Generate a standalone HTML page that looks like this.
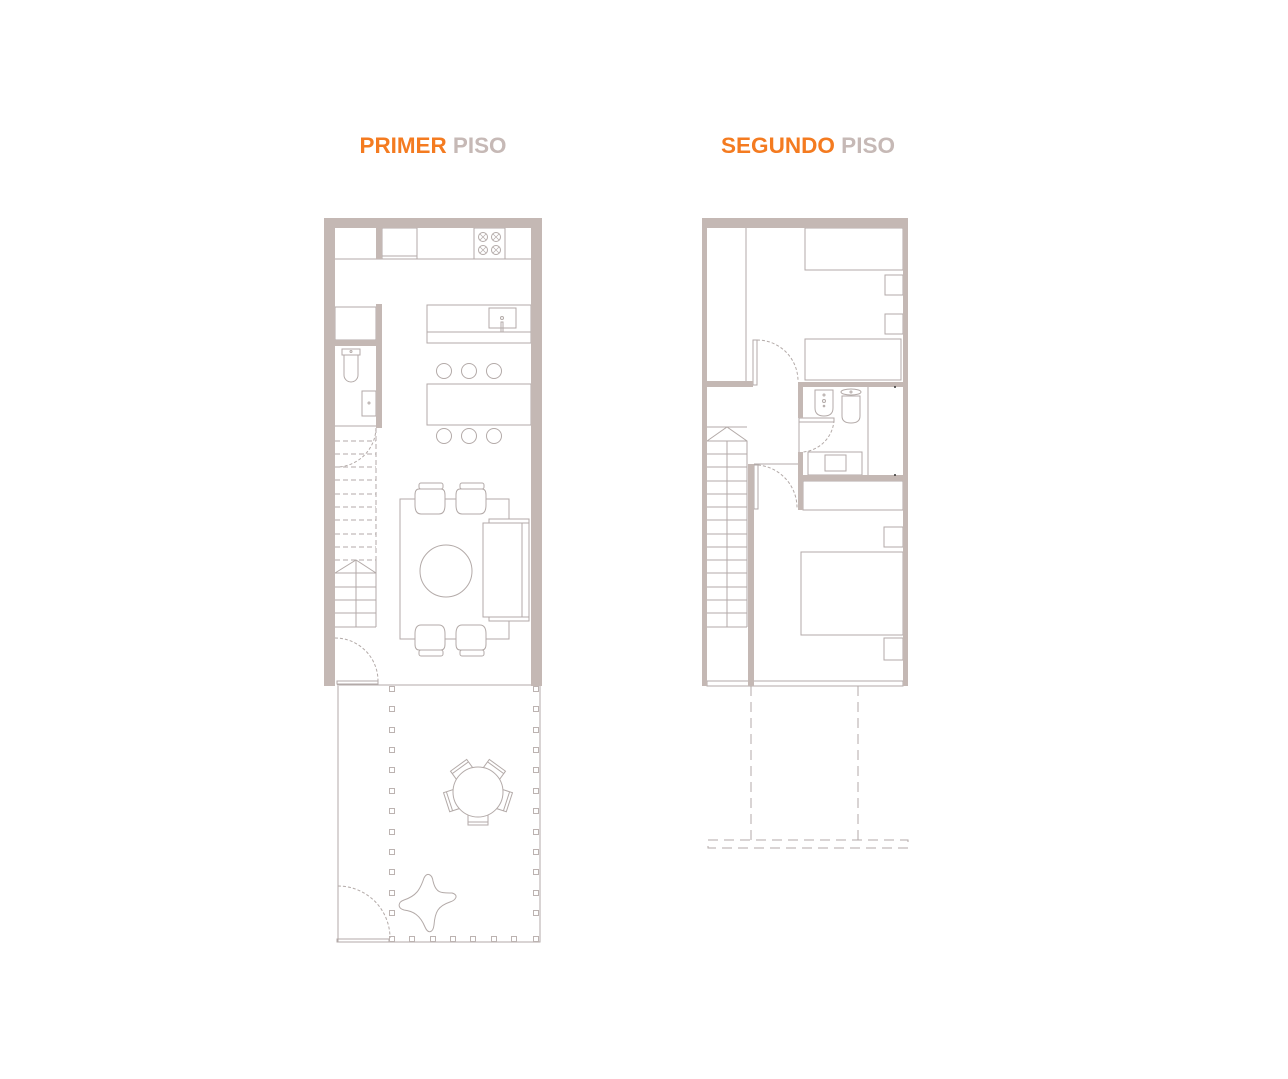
<!DOCTYPE html>
<html><head><meta charset="utf-8"><style>
html,body{margin:0;padding:0;background:#fff;}
svg{display:block;}
text{font-family:"Liberation Sans",Arial,sans-serif;font-weight:bold;font-size:22px;}
</style></head><body>
<svg width="1288" height="1079" viewBox="0 0 1288 1079" xmlns="http://www.w3.org/2000/svg">
<rect width="1288" height="1079" fill="#fff"/>
<text x="433" y="153" text-anchor="middle" textLength="147" lengthAdjust="spacingAndGlyphs"><tspan fill="#f47b20">PRIMER</tspan><tspan fill="#c6b9b6"> PISO</tspan></text>
<text x="808" y="153" text-anchor="middle" textLength="174" lengthAdjust="spacingAndGlyphs"><tspan fill="#f47b20">SEGUNDO</tspan><tspan fill="#c6b9b6"> PISO</tspan></text>

<g fill="none" stroke="#b3aaa8" stroke-width="1">
<line x1="335" y1="259" x2="531" y2="259"/>
<rect x="382" y="228" width="35" height="31"/>
<line x1="382" y1="256" x2="417" y2="256"/>
<rect x="474" y="228" width="31" height="31"/>
<g>
<circle cx="483" cy="237" r="4.5"/><circle cx="496" cy="237" r="4.5"/>
<circle cx="483" cy="250" r="4.5"/><circle cx="496" cy="250" r="4.5"/>
<path d="M480 234l6 6M486 234l-6 6M493 234l6 6M499 234l-6 6M480 247l6 6M486 247l-6 6M493 247l6 6M499 247l-6 6" stroke-width="0.7"/>
</g>
<rect x="335" y="307" width="41" height="33"/>
<path d="M342 349h18v6h-18z"/>
<path d="M344 355h14v20a7 7 0 0 1-14 0z"/>
<circle cx="351" cy="351.5" r="1"/>
<rect x="362" y="391" width="14" height="25"/>
<circle cx="369" cy="403" r="1"/>
<rect x="427" y="305" width="104" height="38"/>
<line x1="427" y1="332" x2="531" y2="332"/>
<rect x="489" y="308" width="27" height="20"/>
<circle cx="502" cy="318" r="1.5"/>
<rect x="501" y="322" width="2" height="10"/>
<circle cx="444" cy="371" r="7.5"/><circle cx="469" cy="371" r="7.5"/><circle cx="494" cy="371" r="7.5"/>
<rect x="427" y="384" width="104" height="41"/>
<circle cx="444" cy="436" r="7.5"/><circle cx="469" cy="436" r="7.5"/><circle cx="494" cy="436" r="7.5"/>
<line x1="335" y1="426" x2="376" y2="426"/>
<g stroke-dasharray="5 3">
<line x1="335" y1="441" x2="376" y2="441"/><line x1="335" y1="454" x2="376" y2="454"/>
<line x1="335" y1="467" x2="376" y2="467"/><line x1="335" y1="480" x2="376" y2="480"/>
<line x1="335" y1="494" x2="376" y2="494"/><line x1="335" y1="507" x2="376" y2="507"/>
<line x1="335" y1="520" x2="376" y2="520"/><line x1="335" y1="534" x2="376" y2="534"/>
<line x1="335" y1="547" x2="376" y2="547"/><line x1="335" y1="560" x2="376" y2="560"/>
<line x1="376" y1="428" x2="376" y2="573"/>
<path d="M376 428A40 40 0 0 1 337 467" stroke-dasharray="3 2"/>
</g>
<line x1="335" y1="573" x2="376" y2="573"/><line x1="335" y1="587" x2="376" y2="587"/>
<line x1="335" y1="600" x2="376" y2="600"/><line x1="335" y1="613" x2="376" y2="613"/>
<line x1="335" y1="627" x2="376" y2="627"/>
<line x1="376" y1="560" x2="376" y2="627"/>
<line x1="356" y1="560" x2="356" y2="627"/>
<path d="M335 573L356 560L376 573"/>
<rect x="400" y="499" width="109" height="140"/>
<circle cx="446" cy="571" r="26"/>
<g fill="#fff">
<rect x="419" y="483" width="24" height="6" rx="2"/>
<path d="M419 489h22q4 0 4 6v10q0 9-6 9h-18q-6 0-6-9v-10q0-6 4-6z"/>
<rect x="460" y="483" width="24" height="6" rx="2"/>
<path d="M460 489h22q4 0 4 6v10q0 9-6 9h-18q-6 0-6-9v-10q0-6 4-6z"/>
<rect x="419" y="650" width="24" height="6" rx="2"/>
<path d="M419 650h22q4 0 4-6v-10q0-9-6-9h-18q-6 0-6 9v10q0 6 4 6z"/>
<rect x="460" y="650" width="24" height="6" rx="2"/>
<path d="M460 650h22q4 0 4-6v-10q0-9-6-9h-18q-6 0-6 9v10q0 6 4 6z"/>
<rect x="483" y="523" width="39" height="94"/>
<rect x="489" y="519" width="40" height="4"/>
<rect x="489" y="617" width="40" height="4"/>
<rect x="522" y="523" width="7" height="94"/>
</g>
<path d="M335 638A43 43 0 0 1 378 681" stroke-dasharray="3 2"/>
<line x1="337" y1="685" x2="531" y2="685"/>
<rect x="337" y="681" width="41" height="3"/>
<path d="M338 686V942H540V686"/>
<rect x="337" y="939" width="52" height="3"/>
<path d="M338 886A52 52 0 0 1 390 938" stroke-dasharray="3 2"/>
<g stroke="#bcb3b1">
<rect x="389.5" y="686.5" width="5" height="5"/><rect x="389.5" y="706.5" width="5" height="5"/>
<rect x="389.5" y="727.5" width="5" height="5"/><rect x="389.5" y="747.5" width="5" height="5"/>
<rect x="389.5" y="767.5" width="5" height="5"/><rect x="389.5" y="788.5" width="5" height="5"/>
<rect x="389.5" y="808.5" width="5" height="5"/><rect x="389.5" y="829.5" width="5" height="5"/>
<rect x="389.5" y="849.5" width="5" height="5"/><rect x="389.5" y="869.5" width="5" height="5"/>
<rect x="389.5" y="890.5" width="5" height="5"/><rect x="389.5" y="910.5" width="5" height="5"/>
<rect x="533.5" y="686.5" width="5" height="5"/><rect x="533.5" y="706.5" width="5" height="5"/>
<rect x="533.5" y="727.5" width="5" height="5"/><rect x="533.5" y="747.5" width="5" height="5"/>
<rect x="533.5" y="767.5" width="5" height="5"/><rect x="533.5" y="788.5" width="5" height="5"/>
<rect x="533.5" y="808.5" width="5" height="5"/><rect x="533.5" y="829.5" width="5" height="5"/>
<rect x="533.5" y="849.5" width="5" height="5"/><rect x="533.5" y="869.5" width="5" height="5"/>
<rect x="533.5" y="890.5" width="5" height="5"/><rect x="533.5" y="910.5" width="5" height="5"/>
<rect x="389.5" y="936.5" width="5" height="5"/><rect x="409.5" y="936.5" width="5" height="5"/>
<rect x="430.5" y="936.5" width="5" height="5"/><rect x="450.5" y="936.5" width="5" height="5"/>
<rect x="470.5" y="936.5" width="5" height="5"/><rect x="491.5" y="936.5" width="5" height="5"/>
<rect x="511.5" y="936.5" width="5" height="5"/><rect x="533.5" y="936.5" width="5" height="5"/>
</g>
<g transform="translate(478 792)">
<g id="ch"><rect x="-10" y="23" width="20" height="10"/><line x1="-10" y1="30" x2="10" y2="30"/></g>
<use href="#ch" transform="rotate(72)"/>
<use href="#ch" transform="rotate(144)"/>
<use href="#ch" transform="rotate(216)"/>
<use href="#ch" transform="rotate(288)"/>
<circle r="25" fill="#fff"/>
</g>
<path d="M424 878C427 872 432 874 433 881C436 894 442 893 452 893C459 895 456 900 450 902C438 906 435 912 434 925C433 933 428 934 425 927C420 915 413 911 404 910C397 908 398 902 404 900C416 896 420 890 424 878Z"/>
<line x1="746" y1="228" x2="746" y2="381"/>
<rect x="805" y="228" width="98" height="42"/>
<rect x="885" y="275" width="18" height="20"/>
<rect x="885" y="314" width="18" height="20"/>
<rect x="805" y="339" width="96" height="41"/>
<rect x="753" y="340" width="4" height="45"/>
<path d="M757 340A41 41 0 0 1 798 381" stroke-dasharray="3 2"/>
<line x1="868" y1="387" x2="868" y2="475"/>
<path d="M815 390h18v18q0 8-9 8t-9-8z"/>
<circle cx="824" cy="395" r="1"/><circle cx="824" cy="401" r="1.5"/><circle cx="824" cy="406" r="0.8"/>
<ellipse cx="851" cy="392" rx="10" ry="3"/>
<path d="M842 396h18v20q0 7-9 7t-9-7z"/>
<circle cx="851" cy="392" r="1"/>
<rect x="799" y="418" width="35" height="4"/>
<line x1="799" y1="418" x2="799" y2="452"/>
<path d="M834 420A34 34 0 0 1 803 452" stroke-dasharray="3 2"/>
<rect x="808" y="452" width="54" height="23"/>
<rect x="825" y="455" width="21" height="16"/>
<rect x="803" y="481" width="100" height="29"/>
<rect x="884" y="527" width="19" height="20"/>
<rect x="801" y="552" width="102" height="83"/>
<rect x="884" y="638" width="19" height="22"/>
<rect x="754" y="465" width="4" height="44"/>
<path d="M758 465A43 43 0 0 1 797 509" stroke-dasharray="3 2"/>
<line x1="754" y1="464" x2="798" y2="464"/>
<line x1="707" y1="441" x2="747" y2="441"/>
<path d="M707 441L727 427L747 441V627"/>
<line x1="707" y1="427" x2="747" y2="427"/>
<line x1="707" y1="454" x2="747" y2="454"/><line x1="707" y1="467" x2="747" y2="467"/>
<line x1="707" y1="481" x2="747" y2="481"/><line x1="707" y1="494" x2="747" y2="494"/>
<line x1="707" y1="507" x2="747" y2="507"/><line x1="707" y1="520" x2="747" y2="520"/>
<line x1="707" y1="534" x2="747" y2="534"/><line x1="707" y1="547" x2="747" y2="547"/>
<line x1="707" y1="560" x2="747" y2="560"/><line x1="707" y1="573" x2="747" y2="573"/>
<line x1="707" y1="587" x2="747" y2="587"/><line x1="707" y1="600" x2="747" y2="600"/>
<line x1="707" y1="613" x2="747" y2="613"/><line x1="707" y1="627" x2="747" y2="627"/>
<line x1="727" y1="441" x2="727" y2="627"/>
<rect x="707" y="681" width="196" height="5"/>
<g stroke-dasharray="10 6">
<line x1="751" y1="686" x2="751" y2="840"/>
<line x1="858" y1="686" x2="858" y2="840"/>
<rect x="708" y="840" width="200" height="8"/>
</g>
</g>

<g fill="#c4b8b4">
<rect x="324" y="218" width="218" height="10"/>
<rect x="324" y="218" width="11" height="468"/>
<rect x="531" y="218" width="11" height="468"/>
<rect x="376" y="228" width="6" height="31"/>
<rect x="376" y="304" width="6" height="124"/>
<rect x="335" y="340" width="41" height="6"/>
<rect x="702" y="218" width="206" height="10"/>
<rect x="702" y="218" width="5" height="468"/>
<rect x="903" y="218" width="5" height="468"/>
<rect x="707" y="381" width="46" height="6"/>
<rect x="798" y="382" width="105" height="5"/>
<rect x="798" y="382" width="5" height="36"/>
<rect x="798" y="452" width="5" height="58"/>
<rect x="798" y="475" width="105" height="6"/>
<rect x="748" y="464" width="6" height="222"/>
</g>
<circle cx="895" cy="387" r="1" fill="#333"/>
<circle cx="895" cy="475" r="1" fill="#333"/>
</svg>
</body></html>
